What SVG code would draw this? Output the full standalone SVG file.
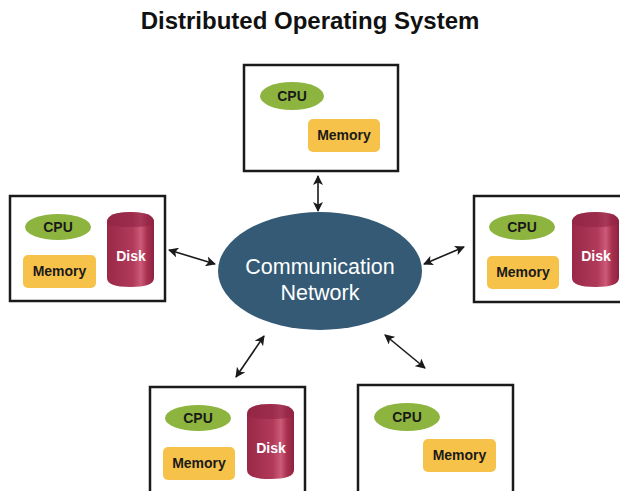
<svg xmlns="http://www.w3.org/2000/svg" width="620" height="491" viewBox="0 0 620 491">
  <defs>
    <style>
      .box { fill: #ffffff; stroke: #1a1a1a; stroke-width: 2.5; }
      .cpu { fill: #8db43e; }
      .mem { fill: #f7c24a; }
      .lbl { font-family: "Liberation Sans", Arial, sans-serif; font-weight: bold; font-size: 14px; fill: #1a1a1a; text-anchor: middle; }
      .disk-lbl { fill: #ffffff; }
      .net-lbl { font-family: "Liberation Sans", Arial, sans-serif; font-size: 21.5px; fill: #ffffff; text-anchor: middle; }
      .link { stroke: #1a1a1a; stroke-width: 1.6; fill: none; marker-start: url(#head); marker-end: url(#head); }
    </style>
    <linearGradient id="diskBody" x1="0" y1="0" x2="1" y2="0">
      <stop offset="0" stop-color="#9a2847"/>
      <stop offset="0.55" stop-color="#b13a5a"/>
      <stop offset="0.72" stop-color="#cc5a78"/>
      <stop offset="0.85" stop-color="#a9304f"/>
      <stop offset="1" stop-color="#8e2242"/>
    </linearGradient>
    <marker id="head" viewBox="0 0 10 10" refX="9" refY="5" markerWidth="10" markerHeight="10" markerUnits="userSpaceOnUse" orient="auto-start-reverse">
      <path d="M0,0 L10,5 L0,10 L2.5,5 z" fill="#1a1a1a"/>
    </marker>
    <!-- disk cylinder, 47 x 75, origin at top-left -->
    <g id="disk">
      <path d="M0,10 Q0,0 23.5,0 Q47,0 47,10 L47,66 Q47,75 23.5,75 Q0,75 0,66 z" fill="url(#diskBody)"/>
      <path d="M0,10 Q0,0 23.5,0 Q47,0 47,10 Q47,15 23.5,15 Q0,15 0,10 z" fill="#8f2444" opacity="0.6"/>
    </g>
  </defs>

  <rect width="620" height="491" fill="#ffffff"/>

  <text x="310" y="29" font-family="Liberation Sans, Arial, sans-serif" font-weight="bold" font-size="24" fill="#111111" text-anchor="middle">Distributed Operating System</text>

  <!-- connectors -->
  <g id="connectors">
    <line class="link" x1="318" y1="176" x2="318" y2="211"/>
    <line class="link" x1="169" y1="250" x2="215" y2="264"/>
    <line class="link" x1="424" y1="264" x2="464" y2="247"/>
    <line class="link" x1="264" y1="336" x2="236" y2="377"/>
    <line class="link" x1="385" y1="335" x2="425" y2="368"/>
  </g>

  <g id="network">
    <ellipse cx="320" cy="271" rx="102" ry="59" fill="#345a76"/>
    <text class="net-lbl" x="320" y="274">Communication</text>
    <text class="net-lbl" x="320" y="300">Network</text>
  </g>

  <g id="node-top">
    <rect class="box" x="244" y="65" width="154" height="106"/>
    <ellipse class="cpu" cx="292" cy="96" rx="32" ry="14"/>
    <text class="lbl" x="292" y="101">CPU</text>
    <rect class="mem" x="308" y="119" width="72" height="33" rx="5"/>
    <text class="lbl" x="344" y="140">Memory</text>
  </g>

  <g id="node-left">
    <rect class="box" x="10" y="196" width="155" height="105"/>
    <ellipse class="cpu" cx="58" cy="227" rx="33" ry="13"/>
    <text class="lbl" x="58" y="232">CPU</text>
    <rect class="mem" x="23" y="255" width="73" height="33" rx="5"/>
    <text class="lbl" x="59.500" y="276">Memory</text>
    <use href="#disk" x="107" y="212"/>
    <text class="lbl disk-lbl" x="131" y="261">Disk</text>
  </g>

  <g id="node-right">
    <rect class="box" x="474" y="196" width="152" height="106"/>
    <ellipse class="cpu" cx="522" cy="227" rx="33" ry="13"/>
    <text class="lbl" x="522" y="232">CPU</text>
    <rect class="mem" x="487" y="256" width="72" height="33" rx="5"/>
    <text class="lbl" x="523" y="277">Memory</text>
    <use href="#disk" x="572" y="212"/>
    <text class="lbl disk-lbl" x="596" y="261">Disk</text>
  </g>

  <g id="node-bottom-left">
    <rect class="box" x="150" y="387" width="155" height="110"/>
    <ellipse class="cpu" cx="198" cy="418" rx="33" ry="13"/>
    <text class="lbl" x="198" y="423">CPU</text>
    <rect class="mem" x="163" y="447" width="72" height="33" rx="5"/>
    <text class="lbl" x="199" y="468">Memory</text>
    <use href="#disk" x="247" y="404"/>
    <text class="lbl disk-lbl" x="271" y="453">Disk</text>
  </g>

  <g id="node-bottom-right">
    <rect class="box" x="358" y="385" width="155" height="112"/>
    <ellipse class="cpu" cx="407" cy="417" rx="33" ry="14"/>
    <text class="lbl" x="407" y="422">CPU</text>
    <rect class="mem" x="423" y="439" width="73" height="33" rx="5"/>
    <text class="lbl" x="459.500" y="460">Memory</text>
  </g>
</svg>
